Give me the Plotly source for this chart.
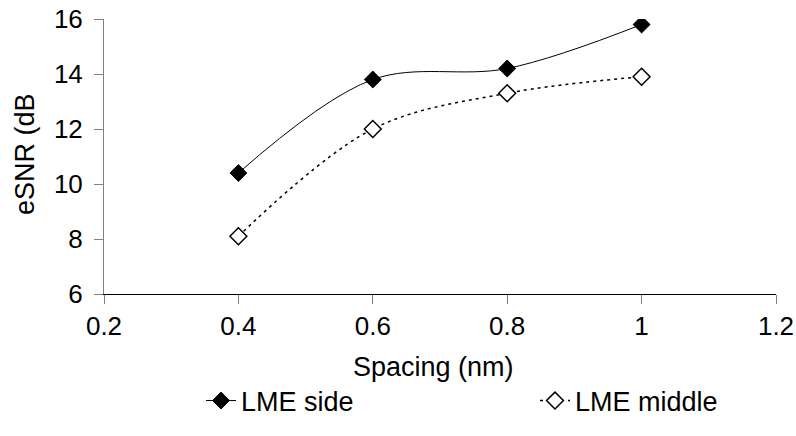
import plotly.graph_objects as go

spacing = [0.4, 0.6, 0.8, 1.0]
lme_side = [10.4, 13.8, 14.2, 15.8]
lme_middle = [8.1, 12.0, 13.3, 13.9]
x_ticks = [0.2, 0.4, 0.6, 0.8, 1.0, 1.2]
x_tick_labels = ["0.2", "0.4", "0.6", "0.8", "1", "1.2"]
y_ticks = [6, 8, 10, 12, 14, 16]

FONT = "Liberation Sans, Arial, sans-serif"

fig = go.Figure()
fig.add_trace(go.Scatter(
    x=spacing, y=lme_side, name="LME side", mode="lines+markers", legend="legend",
    line=dict(color="black", width=1, shape="spline", smoothing=1.0),
    marker=dict(symbol="diamond", size=13, color="black", line=dict(color="black", width=1)),
))
fig.add_trace(go.Scatter(
    x=spacing, y=lme_middle, name="LME middle", mode="lines+markers", legend="legend2",
    line=dict(color="black", width=1.5, shape="spline", smoothing=1.0, dash="3px,4px"),
    marker=dict(symbol="diamond", size=13, color="white", line=dict(color="black", width=1.5)),
))

W, H = 796, 436
L, R, T, B = 104, 20, 19, 142
pw = W - L - R
ph = H - T - B

def px_x(p):
    return (p - L) / pw

def px_y(p):
    return (T + ph - p) / ph

leg_common = dict(orientation="h", xanchor="left", yanchor="middle",
                  font=dict(family=FONT, size=27, color="black"),
                  bgcolor="rgba(0,0,0,0)", borderwidth=0)

fig.update_layout(
    width=W, height=H,
    margin=dict(l=L, r=R, t=T, b=B, autoexpand=False),
    paper_bgcolor="white", plot_bgcolor="white",
    font=dict(family=FONT, size=26, color="black"),
    showlegend=True,
    legend=dict(x=px_x(201), y=px_y(401), **leg_common),
    legend2=dict(x=px_x(535), y=px_y(401), **leg_common),
    xaxis=dict(range=[0.2, 1.2], tickvals=x_ticks, ticktext=x_tick_labels,
               showgrid=False, zeroline=False, showline=True, linecolor="black", linewidth=1,
               ticks="outside", ticklen=9, tickcolor="#808080", tickwidth=1,
               tickfont=dict(family=FONT, size=26, color="black")),
    yaxis=dict(range=[6, 16], tickvals=y_ticks,
               showgrid=False, zeroline=False, showline=True, linecolor="#808080", linewidth=1,
               ticks="outside", ticklen=9, tickcolor="#808080", tickwidth=1,
               ticklabelstandoff=6,
               tickfont=dict(family=FONT, size=26, color="black")),
    annotations=[
        dict(text="Spacing (nm)", xref="paper", yref="paper",
             x=px_x(433), y=px_y(367), xanchor="center", yanchor="middle",
             showarrow=False, font=dict(family=FONT, size=27, color="black")),
        dict(text="eSNR (dB", xref="paper", yref="paper", textangle=-90,
             x=px_x(25), y=px_y(154), xanchor="center", yanchor="middle",
             showarrow=False, font=dict(family=FONT, size=27, color="black")),
    ],
)

fig.write_html("out.html", config={"displayModeBar": False},
               post_script="document.body.style.margin='0';")
